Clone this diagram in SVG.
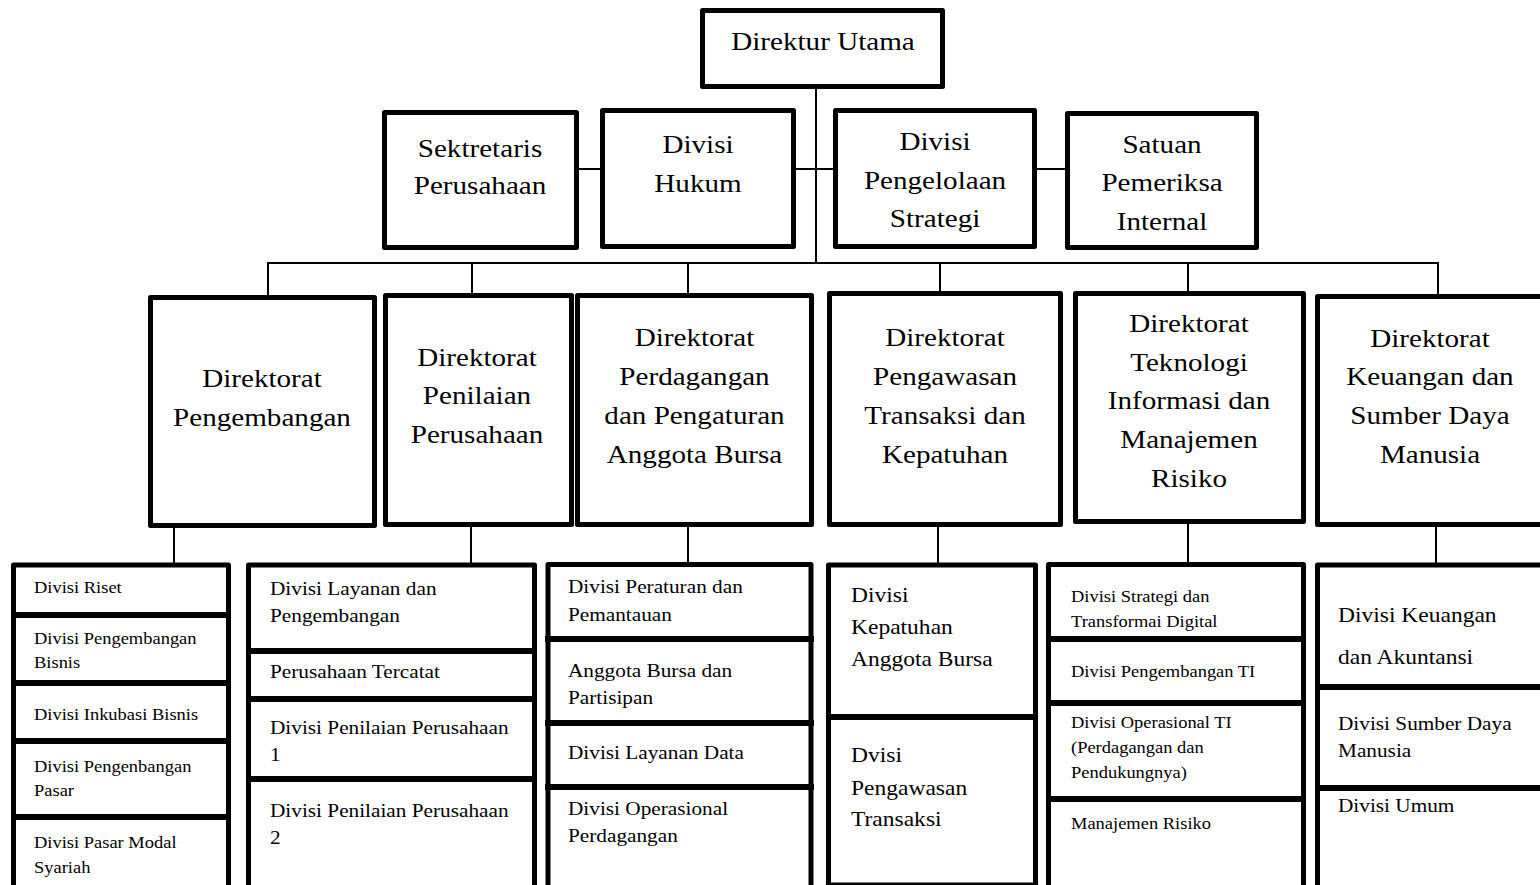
<svg xmlns="http://www.w3.org/2000/svg" width="1540" height="885" viewBox="0 0 1540 885">
<style>
  .box { fill: #ffffff; stroke: #000000; stroke-width: 5; stroke-linejoin: round; }
  .col { fill: #ffffff; stroke: #000000; stroke-width: 5; stroke-linejoin: round; }
  .div { stroke: #000000; stroke-width: 6; }
  .con { stroke: #000000; stroke-width: 2; fill: none; }
  text { font-family: "Liberation Serif", "Times New Roman", serif; fill: #000000; }
  .c { text-anchor: middle; font-size: 26px; }
  .s1 { font-size: 16.5px; }
  .s2 { font-size: 19px; }
  .s3 { font-size: 21px; }
</style>
<rect width="1540" height="885" fill="#ffffff"/>

<g id="connectors">
  <line class="con" x1="816" y1="88" x2="816" y2="263"/>
  <line class="con" x1="578" y1="169" x2="1067" y2="169"/>
  <line class="con" x1="267" y1="263" x2="1439" y2="263"/>
  <line class="con" x1="268" y1="263" x2="268" y2="297"/>
  <line class="con" x1="472" y1="263" x2="472" y2="295"/>
  <line class="con" x1="688" y1="263" x2="688" y2="295"/>
  <line class="con" x1="940" y1="263" x2="940" y2="293"/>
  <line class="con" x1="1188" y1="263" x2="1188" y2="293"/>
  <line class="con" x1="1438" y1="263" x2="1438" y2="296"/>
  <line class="con" x1="174" y1="527" x2="174" y2="572"/>
  <line class="con" x1="471" y1="527" x2="471" y2="570"/>
  <line class="con" x1="688" y1="527" x2="688" y2="570"/>
  <line class="con" x1="938" y1="527" x2="938" y2="570"/>
  <line class="con" x1="1188" y1="524" x2="1188" y2="570"/>
  <line class="con" x1="1436" y1="527" x2="1436" y2="570"/>
</g>

<g id="direktur-utama">
  <rect class="box" x="702.5" y="10.5" width="240" height="76"/>
  <text class="c" transform="translate(823,0) scale(1.12,1)" x="0" y="50">Direktur Utama</text>
</g>

<g id="sekretaris">
  <rect class="box" x="384.5" y="112.5" width="192" height="135"/>
  <text class="c" transform="translate(480,0) scale(1.12,1)"><tspan x="0" y="157">Sektretaris</tspan><tspan x="0" y="194">Perusahaan</tspan></text>
</g>

<g id="hukum">
  <rect class="box" x="602.5" y="110.5" width="191" height="136"/>
  <text class="c" transform="translate(698,0) scale(1.12,1)"><tspan x="0" y="153">Divisi</tspan><tspan x="0" y="192">Hukum</tspan></text>
</g>

<g id="pengelolaan-strategi">
  <rect class="box" x="835.5" y="110.5" width="199" height="136"/>
  <text class="c" transform="translate(935,0) scale(1.12,1)"><tspan x="0" y="150">Divisi</tspan><tspan x="0" y="189">Pengelolaan</tspan><tspan x="0" y="227">Strategi</tspan></text>
</g>

<g id="satuan-pemeriksa">
  <rect class="box" x="1067.5" y="113.5" width="189" height="134"/>
  <text class="c" transform="translate(1162,0) scale(1.12,1)"><tspan x="0" y="153">Satuan</tspan><tspan x="0" y="191">Pemeriksa</tspan><tspan x="0" y="230">Internal</tspan></text>
</g>

<g id="dir-pengembangan">
  <rect class="box" x="150.5" y="297.5" width="224" height="228"/>
  <text class="c" transform="translate(262,0) scale(1.12,1)"><tspan x="0" y="387">Direktorat</tspan><tspan x="0" y="426">Pengembangan</tspan></text>
</g>

<g id="dir-penilaian">
  <rect class="box" x="385.5" y="295.5" width="186" height="229"/>
  <text class="c" transform="translate(477,0) scale(1.12,1)"><tspan x="0" y="366">Direktorat</tspan><tspan x="0" y="404">Penilaian</tspan><tspan x="0" y="443">Perusahaan</tspan></text>
</g>

<g id="dir-perdagangan">
  <rect class="box" x="577.5" y="295.5" width="234" height="229"/>
  <text class="c" transform="translate(694.5,0) scale(1.12,1)"><tspan x="0" y="346">Direktorat</tspan><tspan x="0" y="385">Perdagangan</tspan><tspan x="0" y="424">dan Pengaturan</tspan><tspan x="0" y="463">Anggota Bursa</tspan></text>
</g>

<g id="dir-pengawasan">
  <rect class="box" x="829.5" y="293.5" width="231" height="231"/>
  <text class="c" transform="translate(945,0) scale(1.12,1)"><tspan x="0" y="346">Direktorat</tspan><tspan x="0" y="385">Pengawasan</tspan><tspan x="0" y="424">Transaksi dan</tspan><tspan x="0" y="463">Kepatuhan</tspan></text>
</g>

<g id="dir-ti">
  <rect class="box" x="1075.5" y="293.5" width="228" height="228"/>
  <text class="c" transform="translate(1189,0) scale(1.12,1)"><tspan x="0" y="332">Direktorat</tspan><tspan x="0" y="371">Teknologi</tspan><tspan x="0" y="409">Informasi dan</tspan><tspan x="0" y="448">Manajemen</tspan><tspan x="0" y="487">Risiko</tspan></text>
</g>

<g id="dir-keuangan">
  <rect class="box" x="1317.5" y="296.5" width="250" height="228"/>
  <text class="c" transform="translate(1430,0) scale(1.12,1)"><tspan x="0" y="347">Direktorat</tspan><tspan x="0" y="385">Keuangan dan</tspan><tspan x="0" y="424">Sumber Daya</tspan><tspan x="0" y="463">Manusia</tspan></text>
</g>

<g id="col-pengembangan">
  <rect class="col" x="13.5" y="565" width="215" height="340"/>
  <line class="div" x1="11" y1="615" x2="231" y2="615"/>
  <line class="div" x1="11" y1="683" x2="231" y2="683"/>
  <line class="div" x1="11" y1="741" x2="231" y2="741"/>
  <line class="div" x1="11" y1="817" x2="231" y2="817"/>
  <text class="s1" transform="translate(34,0) scale(1.12,1)"><tspan x="0" y="593">Divisi Riset</tspan><tspan x="0" y="644">Divisi Pengembangan</tspan><tspan x="0" y="668">Bisnis</tspan><tspan x="0" y="720">Divisi Inkubasi Bisnis</tspan><tspan x="0" y="772">Divisi Pengenbangan</tspan><tspan x="0" y="796">Pasar</tspan><tspan x="0" y="848">Divisi Pasar Modal</tspan><tspan x="0" y="873">Syariah</tspan></text>
</g>

<g id="col-penilaian">
  <rect class="col" x="248.5" y="565" width="286" height="340"/>
  <line class="div" x1="246" y1="651" x2="537" y2="651"/>
  <line class="div" x1="246" y1="699" x2="537" y2="699"/>
  <line class="div" x1="246" y1="779" x2="537" y2="779"/>
  <text class="s2" transform="translate(270,0) scale(1.12,1)"><tspan x="0" y="595">Divisi Layanan dan</tspan><tspan x="0" y="622">Pengembangan</tspan><tspan x="0" y="678">Perusahaan Tercatat</tspan><tspan x="0" y="734">Divisi Penilaian Perusahaan</tspan><tspan x="0" y="761">1</tspan><tspan x="0" y="817">Divisi Penilaian Perusahaan</tspan><tspan x="0" y="844">2</tspan></text>
</g>

<g id="col-perdagangan">
  <rect class="col" x="548" y="564.5" width="263" height="340"/>
  <line class="div" x1="545" y1="639" x2="814" y2="639"/>
  <line class="div" x1="545" y1="723" x2="814" y2="723"/>
  <line class="div" x1="545" y1="787" x2="814" y2="787"/>
  <text class="s2" transform="translate(568,0) scale(1.12,1)"><tspan x="0" y="593">Divisi Peraturan dan</tspan><tspan x="0" y="621">Pemantauan</tspan><tspan x="0" y="677">Anggota Bursa dan</tspan><tspan x="0" y="704">Partisipan</tspan><tspan x="0" y="759">Divisi Layanan Data</tspan><tspan x="0" y="815">Divisi Operasional</tspan><tspan x="0" y="842">Perdagangan</tspan></text>
</g>

<g id="col-pengawasan">
  <rect class="col" x="828.5" y="565" width="207" height="320"/>
  <line class="div" x1="826" y1="717" x2="1038" y2="717"/>
  <text class="s3" transform="translate(851,0) scale(1.12,1)"><tspan x="0" y="602">Divisi</tspan><tspan x="0" y="634">Kepatuhan</tspan><tspan x="0" y="666">Anggota Bursa</tspan><tspan x="0" y="762">Dvisi</tspan><tspan x="0" y="795">Pengawasan</tspan><tspan x="0" y="826">Transaksi</tspan></text>
</g>

<g id="col-ti">
  <rect class="col" x="1048.5" y="564.5" width="255" height="340"/>
  <line class="div" x1="1046" y1="639" x2="1306" y2="639"/>
  <line class="div" x1="1046" y1="703" x2="1306" y2="703"/>
  <line class="div" x1="1046" y1="799" x2="1306" y2="799"/>
  <text class="s1" transform="translate(1071,0) scale(1.12,1)"><tspan x="0" y="602">Divisi Strategi dan</tspan><tspan x="0" y="627">Transformai Digital</tspan><tspan x="0" y="677">Divisi Pengembangan TI</tspan><tspan x="0" y="728">Divisi Operasional TI</tspan><tspan x="0" y="753">(Perdagangan dan</tspan><tspan x="0" y="778">Pendukungnya)</tspan><tspan x="0" y="829">Manajemen Risiko</tspan></text>
</g>

<g id="col-keuangan">
  <rect class="col" x="1317.5" y="565" width="250" height="340"/>
  <line class="div" x1="1315" y1="687" x2="1545" y2="687"/>
  <line class="div" x1="1315" y1="788" x2="1545" y2="788"/>
  <text class="s3" transform="translate(1338,0) scale(1.12,1)"><tspan x="0" y="622">Divisi Keuangan</tspan><tspan x="0" y="664">dan Akuntansi</tspan></text>
  <text class="s2" transform="translate(1338,0) scale(1.12,1)"><tspan x="0" y="730">Divisi Sumber Daya</tspan><tspan x="0" y="757">Manusia</tspan><tspan x="0" y="812">Divisi Umum</tspan></text>
</g>
</svg>
